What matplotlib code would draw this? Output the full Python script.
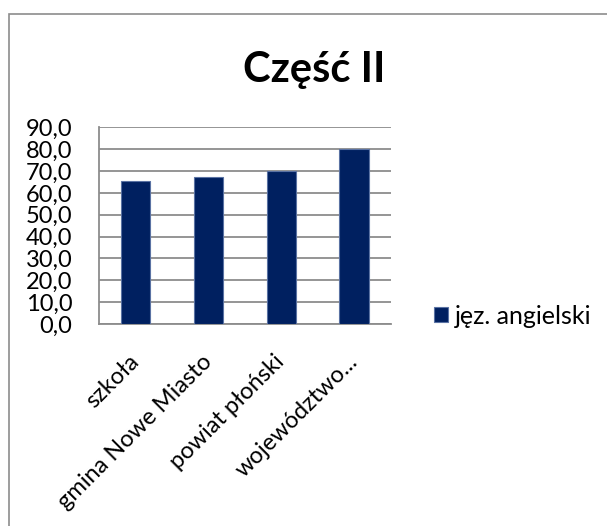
import matplotlib
matplotlib.use("Agg")
import matplotlib.pyplot as plt
from matplotlib.patches import Rectangle

# data
categories = ["szkoła", "gmina Nowe Miasto", "powiat płoński", "województwo..."]
values = [65.4, 67.4, 70.0, 80.2]
series_name = "jęz. angielski"
yticks = [0, 10, 20, 30, 40, 50, 60, 70, 80, 90]

plt.rcParams['font.family'] = ['Lato', 'DejaVu Sans']

fig = plt.figure(figsize=(6.07, 5.26), dpi=100)
W, H = 607, 526

# outer chart border (only left/top visible)
fig.patches.append(Rectangle((9 / W, -0.1), 1.2, 1.1 - 14 / H, transform=fig.transFigure,
                             fill=False, edgecolor='#8c8c8c', linewidth=1.2))

ax = fig.add_axes([99 / W, 1 - 324 / H, 291.5 / W, (324 - 127.3) / H])

x = range(len(categories))
bars = ax.bar(x, values, width=0.4, color='#002060', edgecolor='#5a72a3',
              linewidth=0.8, label=series_name, zorder=3)

ax.set_xlim(-0.5, len(categories) - 0.5)
ax.set_ylim(0, 90)
ax.set_yticks(yticks)
ax.set_yticklabels([f"{v:.1f}".replace('.', ',') for v in yticks], fontsize=17)
ax.set_xticks(list(x))
ax.set_xticklabels(categories, rotation=45, ha='right', va='center',
                   rotation_mode='anchor', fontsize=17)
ax.tick_params(axis='both', length=0)
ax.tick_params(axis='y', pad=19)
ax.tick_params(axis='x', pad=25)

ax.grid(axis='y', color='#8c8c8c', linewidth=1.3, zorder=0)
for side in ['top', 'right']:
    ax.spines[side].set_visible(False)
ax.spines['left'].set_color('#8c8c8c')
ax.spines['bottom'].set_color('#8c8c8c')
ax.spines['left'].set_linewidth(1.3)
ax.spines['bottom'].set_linewidth(1.3)

fig.text(314 / W, 1 - 70 / H, "Część II", ha='center', va='center',
         fontsize=30, fontweight='bold')

fig.legend(handles=[bars], labels=[series_name], loc='center left',
           bbox_to_anchor=(434 / W, 1 - 316 / H), frameon=False, fontsize=18,
           handlelength=0.55, handleheight=0.55, handletextpad=0.3,
           borderpad=0, borderaxespad=0)

fig.savefig("out.png", dpi=100)
